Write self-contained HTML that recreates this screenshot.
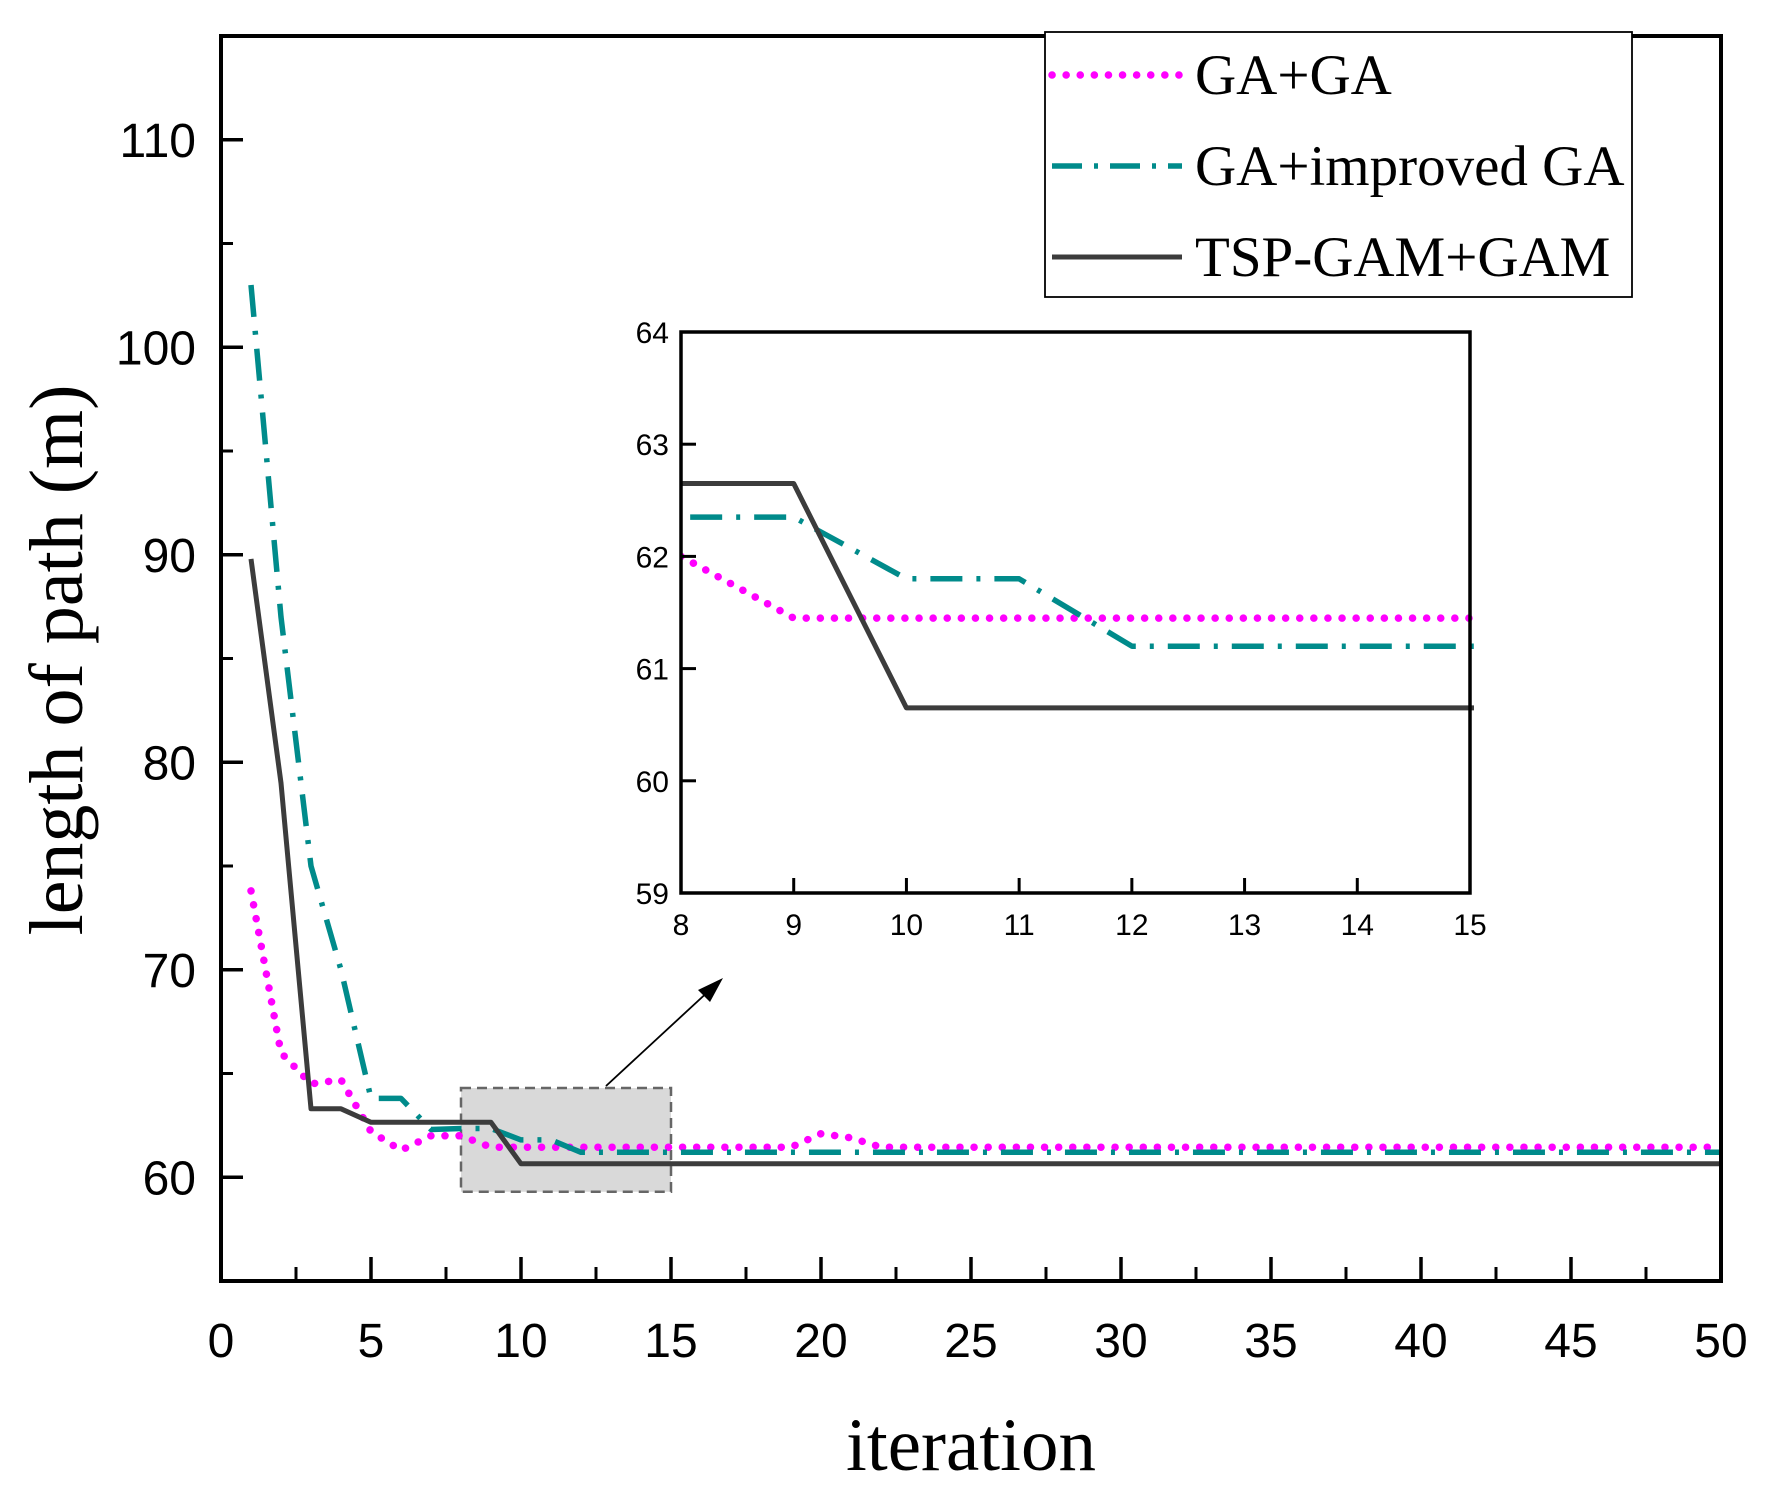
<!DOCTYPE html>
<html><head><meta charset="utf-8"><style>body{margin:0;background:#fff}svg{display:block}</style></head>
<body>
<svg id="chart" width="1775" height="1492" viewBox="0 0 1775 1492" xmlns="http://www.w3.org/2000/svg"></svg>
<script>
const iterations = [1,2,3,4,5,6,7,8,9,10,11,12,13,14,15,16,17,18,19,20,21,22,23,24,25,26,27,28,29,30,31,32,33,34,35,36,37,38,39,40,41,42,43,44,45,46,47,48,49,50];
const gaGa = [73.8,66,64.5,64.7,62.2,61.3,62,62,61.45,61.45,61.45,61.45,61.45,61.45,61.45,61.45,61.45,61.45,61.45,62.1,61.9,61.45,61.45,61.45,61.45,61.45,61.45,61.45,61.45,61.45,61.45,61.45,61.45,61.45,61.45,61.45,61.45,61.45,61.45,61.45,61.45,61.45,61.45,61.45,61.45,61.45,61.45,61.45,61.45,61.45];
const gaImproved = [103,87,75,70,63.8,63.8,62.3,62.35,62.35,61.8,61.8,61.2,61.2,61.2,61.2,61.2,61.2,61.2,61.2,61.2,61.2,61.2,61.2,61.2,61.2,61.2,61.2,61.2,61.2,61.2,61.2,61.2,61.2,61.2,61.2,61.2,61.2,61.2,61.2,61.2,61.2,61.2,61.2,61.2,61.2,61.2,61.2,61.2,61.2,61.2];
const tspGam = [89.8,79,63.3,63.3,62.65,62.65,62.65,62.65,62.65,60.65,60.65,60.65,60.65,60.65,60.65,60.65,60.65,60.65,60.65,60.65,60.65,60.65,60.65,60.65,60.65,60.65,60.65,60.65,60.65,60.65,60.65,60.65,60.65,60.65,60.65,60.65,60.65,60.65,60.65,60.65,60.65,60.65,60.65,60.65,60.65,60.65,60.65,60.65,60.65,60.65];
const xTicks = [0,5,10,15,20,25,30,35,40,45,50];
const yTicks = [60,70,80,90,100,110];
const insetXTicks = [8,9,10,11,12,13,14,15];
const insetYTicks = [59,60,61,62,63,64];

const NS='http://www.w3.org/2000/svg', svg=document.getElementById('chart');
function mk(tag,attrs,parent){const e=document.createElementNS(NS,tag);for(const k in attrs)e.setAttribute(k,attrs[k]);(parent||svg).appendChild(e);return e;}
const L=221,R=1721,T=36,B=1281;
const sx=v=>L+(v-0)/(50-0)*(R-L);
const sy=v=>B-(v-55)/(115-55)*(B-T);
const iL=681,iR=1470,iT=332,iB=893;
const isx=v=>iL+(v-8)/7*(iR-iL);
const isy=v=>iB-(v-59)/5*(iB-iT);
const TF='Liberation Sans, sans-serif';

const styles=[
 {data:gaGa,color:'#ff00ff',dash:'0.1 14',cap:'round',w:7.5,name:'ga-ga-line'},
 {data:gaImproved,color:'#008b8b',dash:'32 14 4 14',cap:'butt',w:5.5,name:'ga-improved-ga-line'},
 {data:tspGam,color:'#3c3c3c',dash:'',cap:'butt',w:5,name:'tsp-gam-gam-line'}];

let zb=mk('rect',{x:sx(8),y:sy(64.3),width:sx(15)-sx(8),height:sy(59.3)-sy(64.3),fill:'#d9d9d9',stroke:'#666','stroke-width':2.5,'stroke-dasharray':'10 6'});



function drawSeries(xf,yf,clipId,suffix){
 styles.forEach(s=>{
  const pts=iterations.map((x,i)=>xf(x).toFixed(1)+','+yf(s.data[i]).toFixed(1)).join(' ');
  const p=mk('polyline',{points:pts,fill:'none',stroke:s.color,'stroke-width':s.w,'stroke-dasharray':s.dash,'stroke-linecap':s.cap,'stroke-linejoin':'round','clip-path':'url(#'+clipId+')'});
  
  
 });
}
const defs=mk('defs',{});
const c1=mk('clipPath',{id:'mainClip'},defs);mk('rect',{x:L,y:T,width:R-L,height:B-T},c1);
const c2=mk('clipPath',{id:'insetClip'},defs);mk('rect',{x:iL,y:iT,width:iR-iL+4,height:iB-iT},c2);
drawSeries(sx,sy,'mainClip','');

let fr=mk('rect',{x:L,y:T,width:R-L,height:B-T,fill:'none',stroke:'#000','stroke-width':4});


xTicks.forEach(v=>{
 mk('line',{x1:sx(v),x2:sx(v),y1:B,y2:B-24,stroke:'#000','stroke-width':3.5});
 const m=v+2.5; if(m<50) mk('line',{x1:sx(m),x2:sx(m),y1:B,y2:B-14,stroke:'#000','stroke-width':3});
 const t=mk('text',{x:sx(v),y:B+76,'text-anchor':'middle','font-size':48,'font-family':TF});t.textContent=v;
 
 
});
yTicks.forEach(v=>{
 mk('line',{x1:L,x2:L+22,y1:sy(v),y2:sy(v),stroke:'#000','stroke-width':3.5});
 mk('line',{x1:L,x2:L+12,y1:sy(v-5),y2:sy(v-5),stroke:'#000','stroke-width':3});
 const t=mk('text',{x:L-25,y:sy(v)+17,'text-anchor':'end','font-size':48,'font-family':TF});t.textContent=v;
 
 
});
mk('line',{x1:L,x2:L+12,y1:sy(115),y2:sy(115),stroke:'#000','stroke-width':3});
let xt=mk('text',{x:(L+R)/2,y:1470,'text-anchor':'middle','font-size':75,'font-family':'Liberation Serif, serif'});xt.textContent='iteration';


let yt=mk('text',{x:0,y:0,'text-anchor':'middle','font-size':76,'font-family':'Liberation Serif, serif',transform:'translate(82,660) rotate(-90)'});yt.textContent='length of path (m)';



mk('line',{x1:606,y1:1086,x2:712,y2:988,stroke:'#000','stroke-width':1.8});
let ar=mk('polygon',{points:'723,978 698,990 710,1002',fill:'#000'});



let ib=mk('rect',{x:iL,y:iT,width:iR-iL,height:iB-iT,fill:'#fff'});


drawSeries(isx,isy,'insetClip','-inset');
mk('rect',{x:iL,y:iT,width:iR-iL,height:iB-iT,fill:'none',stroke:'#000','stroke-width':3.5});
insetXTicks.forEach(v=>{
 mk('line',{x1:isx(v),x2:isx(v),y1:iB,y2:iB-15,stroke:'#000','stroke-width':3});
 const t=mk('text',{x:isx(v),y:iB+42,'text-anchor':'middle','font-size':30,'font-family':TF});t.textContent=v;
 
 
});
insetYTicks.forEach(v=>{
 mk('line',{x1:iL,x2:iL+15,y1:isy(v),y2:isy(v),stroke:'#000','stroke-width':3});
 const t=mk('text',{x:iL-12,y:isy(v)+11,'text-anchor':'end','font-size':30,'font-family':TF});t.textContent=v;
 
 
});

const lg=mk('g',{});


mk('rect',{x:1045,y:32,width:587,height:265,fill:'#fff',stroke:'#000','stroke-width':1.8},lg);
const labels=['GA+GA','GA+improved GA','TSP-GAM+GAM'];
styles.forEach((s,i)=>{
 const y=75+i*91;
 const ln=mk('line',{x1:1052,x2:1182,y1:y,y2:y,stroke:s.color,'stroke-width':s.w,'stroke-dasharray':s.dash==='32 14 4 14'?'30 12 4 12':s.dash,'stroke-linecap':s.cap},lg);
 
 
 const t=mk('text',{x:1195,y:y+19,'font-size':57,'font-family':'Liberation Serif, serif'},lg);t.textContent=labels[i];
 
 
});
</script>
</body></html>
